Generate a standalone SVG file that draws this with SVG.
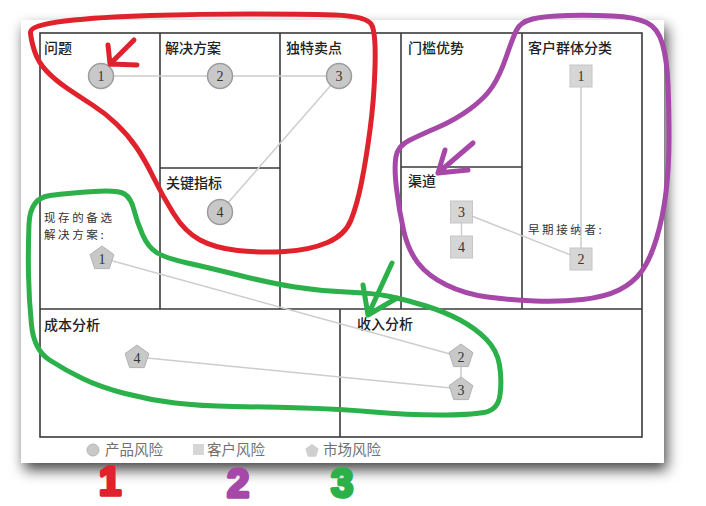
<svg xmlns="http://www.w3.org/2000/svg" width="706" height="506" viewBox="0 0 706 506">
<defs>
<filter id="shadow" x="-10%" y="-10%" width="125%" height="130%">
<feDropShadow dx="3" dy="7" stdDeviation="7" flood-color="#000" flood-opacity="0.72"/>
</filter>
<polygon id="pent" points="0,-12.5 11.9,-3.9 7.35,10.1 -7.35,10.1 -11.9,-3.9"/>
<polygon id="pentS" points="0,-7 6.7,-2.2 4.1,5.7 -4.1,5.7 -6.7,-2.2"/>
</defs>
<style>
.grid{fill:none;stroke:#3a3a3a;stroke-width:1.6}
.lbl{font-family:"Noto Sans CJK SC","Noto Sans",sans-serif;font-size:14px;fill:#222;font-weight:500}
.sub{font-family:"Noto Sans CJK SC","Noto Sans",sans-serif;font-size:11.5px;fill:#333;font-weight:400;letter-spacing:2.6px}
.conn{stroke:#cdcdcd;stroke-width:1.5;fill:none}
.circ{fill:#c8c8c8;stroke:#9c9c9c;stroke-width:1.5}
.sq{fill:#d6d6d6;stroke:#c6c6c6;stroke-width:1}
.pg{fill:#c8c8c8;stroke:#b2b2b2;stroke-width:1}
.num{font-family:"Liberation Serif",serif;font-size:14px;fill:#333;text-anchor:middle}
.leg{font-family:"Noto Sans CJK SC",sans-serif;font-size:14.5px;fill:#707070;font-weight:400}
.red{stroke:#e0222c;fill:none;stroke-width:5;stroke-linejoin:round;stroke-linecap:round}
.pur{stroke:#a548a8;fill:none;stroke-width:5;stroke-linejoin:round;stroke-linecap:round}
.grn{stroke:#2bb04a;fill:none;stroke-width:5;stroke-linejoin:round;stroke-linecap:round}
.hand{font-family:"Liberation Sans",sans-serif;font-weight:bold;text-anchor:middle;stroke-width:3.5;stroke-linejoin:round}
</style>
<rect width="706" height="506" fill="#fff"/>
<rect x="21" y="20" width="643" height="443" fill="#fff" filter="url(#shadow)"/>

<g id="grid">
<rect class="grid" x="40" y="33" width="602" height="404" stroke-width="2"/>
<line class="grid" x1="160" y1="33" x2="160" y2="309"/>
<line class="grid" x1="280" y1="33" x2="280" y2="309"/>
<line class="grid" x1="401" y1="33" x2="401" y2="309"/>
<line class="grid" x1="522" y1="33" x2="522" y2="309"/>
<line class="grid" x1="40" y1="309" x2="642" y2="309"/>
<line class="grid" x1="160" y1="168" x2="280" y2="168"/>
<line class="grid" x1="401" y1="167" x2="522" y2="167"/>
<line class="grid" x1="340" y1="309" x2="340" y2="437"/>
</g>

<g id="labels">
<text class="lbl" x="44" y="53">问题</text>
<text class="lbl" x="165" y="53">解决方案</text>
<text class="lbl" x="286" y="53">独特卖点</text>
<text class="lbl" x="408" y="53">门槛优势</text>
<text class="lbl" x="528" y="53">客户群体分类</text>
<text class="lbl" x="166" y="188">关键指标</text>
<text class="lbl" x="408" y="186">渠道</text>
<text class="sub" x="44" y="222">现存的备选</text>
<text class="sub" x="44" y="239">解决方案:</text>
<text class="sub" x="528" y="234">早期接纳者:</text>
<text class="lbl" x="44" y="330">成本分析</text>
<text class="lbl" x="357" y="329">收入分析</text>
</g>

<g id="connectors">
<line class="conn" x1="101" y1="76" x2="220" y2="76"/>
<line class="conn" x1="220" y1="76" x2="339" y2="76"/>
<line class="conn" x1="339" y1="76" x2="220" y2="212"/>
<line class="conn" x1="581" y1="76" x2="581" y2="259"/>
<line class="conn" x1="461.5" y1="212" x2="461.5" y2="247"/>
<line class="conn" x1="461.5" y1="212" x2="581" y2="259"/>
<line class="conn" x1="102" y1="258" x2="461" y2="357"/>
<line class="conn" x1="137" y1="357" x2="461" y2="389"/>
<line class="conn" x1="461" y1="357" x2="461" y2="389"/>
</g>

<g id="p1"><circle class="circ" cx="101" cy="76" r="12.5"/><text class="num" x="101" y="81">1</text></g>
<g id="p2"><circle class="circ" cx="220" cy="76" r="12.5"/><text class="num" x="220" y="81">2</text></g>
<g id="p3"><circle class="circ" cx="339" cy="76" r="12.5"/><text class="num" x="339" y="81">3</text></g>
<g id="p4"><circle class="circ" cx="220" cy="212" r="12.5"/><text class="num" x="220" y="217">4</text></g>

<g id="c1"><rect class="sq" x="570" y="65" width="22" height="22"/><text class="num" x="581" y="81">1</text></g>
<g id="c2"><rect class="sq" x="570" y="248" width="22" height="22"/><text class="num" x="581" y="264">2</text></g>
<g id="c3"><rect class="sq" x="450.5" y="201" width="22" height="22"/><text class="num" x="461.5" y="217">3</text></g>
<g id="c4"><rect class="sq" x="450.5" y="236" width="22" height="22"/><text class="num" x="461.5" y="252">4</text></g>

<g id="m1"><use href="#pent" class="pg" x="102" y="258.5"/><text class="num" x="102" y="264">1</text></g>
<g id="m2"><use href="#pent" class="pg" x="461" y="356.5"/><text class="num" x="461" y="362">2</text></g>
<g id="m3"><use href="#pent" class="pg" x="461" y="389.5"/><text class="num" x="461" y="395">3</text></g>
<g id="m4"><use href="#pent" class="pg" x="137" y="357.5"/><text class="num" x="137" y="363">4</text></g>

<g id="legend">
<circle cx="93" cy="450" r="6" fill="#c8c8c8" stroke="#b5b5b5"/>
<text class="leg" x="105" y="455">产品风险</text>
<rect x="193" y="444" width="11" height="11" fill="#d6d6d6"/>
<text class="leg" x="207" y="455">客户风险</text>
<use href="#pentS" x="312" y="451" fill="#cfcfcf"/>
<text class="leg" x="323" y="455">市场风险</text>
</g>

<g id="annotations">
<path class="red" d="M30.5,32.5 Q30,25 65,21 Q100,17 150,15.5 Q200,14 250,14 Q300,14 334,15 Q368,16 372,25.5 Q376,35 375,67.5 Q374,100 370,130 Q366,160 361.5,182.5 Q357,205 351,220 Q345,235 327.5,242.5 Q310,250 285,251.5 Q260,253 237.5,250.5 Q215,248 200,240 Q185,232 173.5,213.5 Q162,195 153.5,177.5 Q145,160 136.5,147.5 Q128,135 116.5,124 Q105,113 92.5,105 Q80,97 67.5,88.5 Q55,80 46.5,71 Q38,62 34.5,51 Q31,40 30.5,32.5 Z"/>
<path class="red" d="M134,40 L110,64 M108,45 L110,64 L137,65" stroke-width="4"/>
<path class="pur" d="M516,31 Q520,22 532.5,19 Q545,16 567.5,15.5 Q590,15 612.5,16 Q635,17 646.5,22.5 Q658,28 662.5,44 Q667,60 668,85 Q669,110 669,138.5 Q669,167 666,192 Q663,217 656.5,238.5 Q650,260 641.5,271.5 Q633,283 619,290 Q605,297 582.5,299.5 Q560,302 535,301 Q510,300 487.5,297 Q465,294 446.5,285 Q428,276 418,263 Q408,250 403.5,230 Q399,210 396.5,188.5 Q394,167 396,156.5 Q398,146 409,140.5 Q420,135 437.5,127.5 Q455,120 470,109 Q485,98 492.5,86.5 Q500,75 506,57.5 Q512,40 516,31 Z"/>
<path class="pur" d="M473,143 L438,173 M445,150 L438,173 L468,170" stroke-width="4"/>
<path class="grn" d="M50,195.5 Q70,193 94,191.5 Q118,190 124.5,194 Q131,198 134,210 Q137,222 142.5,234.5 Q148,247 156.5,252.5 Q165,258 187.5,263 Q210,268 240,275.5 Q270,283 295,287 Q320,291 346.5,292 Q373,293 390,296.5 Q407,300 426,306 Q445,312 460,320 Q475,328 486,339 Q497,350 499.5,365 Q502,380 500,395 Q498,410 484,412.5 Q470,415 438.5,415 Q407,415 373.5,412 Q340,409 303.5,408 Q267,407 233.5,406.5 Q200,406 175,403 Q150,400 125,393.5 Q100,387 82.5,378.5 Q65,370 49.5,360 Q34,350 31.5,325 Q29,300 28.5,275 Q28,250 29,224 Q30,198 50,195.5 Z"/>
<path class="grn" d="M392,263 L368,315 M363,285 L368,315 L397,298" stroke-width="4"/>
<text class="hand" x="110" y="495" font-size="40" fill="#e0222c" stroke="#e0222c">1</text>
<text class="hand" x="238" y="497" font-size="40" fill="#a548a8" stroke="#a548a8">2</text>
<text class="hand" x="342" y="497" font-size="40" fill="#2bb04a" stroke="#2bb04a">3</text>
</g>
</svg>
